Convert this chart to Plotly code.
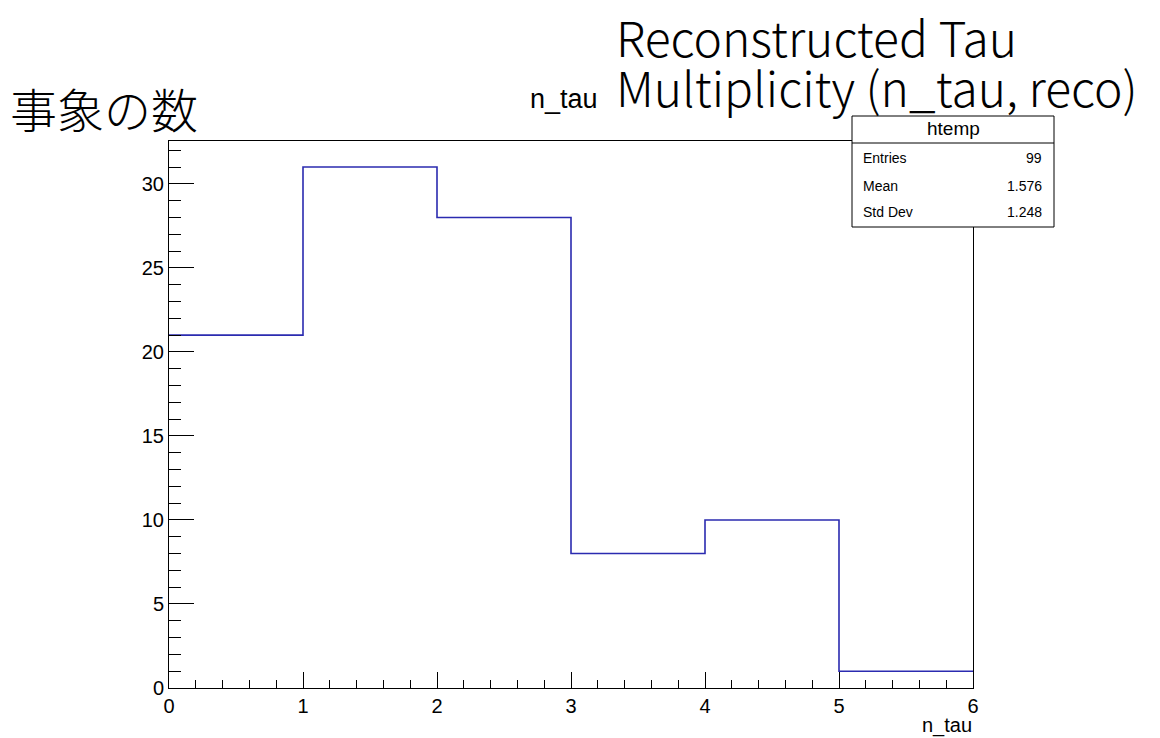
import plotly.graph_objects as go

# Data
bin_edges = [0, 1, 2, 3, 4, 5, 6]
counts = [21, 31, 28, 8, 10, 1]
x_ticks = [0, 1, 2, 3, 4, 5, 6]
y_ticks = [0, 5, 10, 15, 20, 25, 30]
stats_labels = ["Entries", "Mean", "Std Dev"]
stats_values = ["99", "1.576", "1.248"]
title_lines = ["Reconstructed Tau", "Multiplicity (n_tau, reco)"]

W, H = 1160, 738
L, R, T, B = 169, 973, 141, 688
pw, ph = R - L, B - T

def px(x):
    return (x - L) / pw

def py(y):
    return (B - y) / ph

fig = go.Figure()
fig.add_trace(go.Scatter(
    x=bin_edges,
    y=counts + [counts[-1]],
    mode="lines",
    line=dict(shape="hv", color="#2b2bb0", width=1.6),
    hoverinfo="skip",
    showlegend=False,
))

helv = "Liberation Sans, Arial, sans-serif"
tick_font = dict(family=helv, size=20, color="#000")

fig.update_layout(
    width=W, height=H,
    margin=dict(l=L, r=W - R, t=T, b=H - B, pad=0),
    paper_bgcolor="white", plot_bgcolor="white",
    showlegend=False,
    xaxis=dict(
        range=[0, 6], tickvals=x_ticks, ticktext=[str(v) for v in x_ticks],
        ticks="inside", ticklen=16, tickwidth=1, tickcolor="#000",
        minor=dict(dtick=0.2, ticklen=8, ticks="inside", tickcolor="#000", tickwidth=1, showgrid=False),
        showline=True, linecolor="#000", linewidth=1, mirror=True,
        showgrid=False, zeroline=False, tickfont=tick_font,
    ),
    yaxis=dict(
        range=[0, 32.55], tickvals=y_ticks, ticktext=[str(v) for v in y_ticks],
        ticks="inside", ticklen=25, tickwidth=1, tickcolor="#000",
        minor=dict(dtick=1, ticklen=12, ticks="inside", tickcolor="#000", tickwidth=1, showgrid=False),
        showline=True, linecolor="#000", linewidth=1, mirror=True,
        showgrid=False, zeroline=False, tickfont=tick_font,
    ),
)

cjk = "Noto Sans CJK JP, sans-serif"

# Title (two lines, left aligned)
for line, yy in zip(title_lines, [36, 86]):
    fig.add_annotation(
        text=line, xref="paper", yref="paper", x=px(614), y=py(yy),
        xanchor="left", yanchor="middle", align="left", showarrow=False,
        font=dict(family=cjk, size=48, color="#000", weight=300),
    )
# small original title
fig.add_annotation(
    text="n_tau", xref="paper", yref="paper", x=px(564), y=py(99),
    xanchor="center", yanchor="middle", showarrow=False,
    font=dict(family=helv, size=27, color="#000"),
)
# y axis title
fig.add_annotation(
    text="事象の数", xref="paper", yref="paper", x=px(8), y=py(107),
    xanchor="left", yanchor="middle", showarrow=False,
    font=dict(family=cjk, size=47, color="#000", weight=300),
)
# x axis title
fig.add_annotation(
    text="n_tau", xref="paper", yref="paper", x=px(974), y=py(725),
    xanchor="right", yanchor="middle", showarrow=False,
    font=dict(family=helv, size=20, color="#000"),
)

# Stats box
bx0, bx1, by0, by1, bsep = 852, 1054, 116, 227, 143
fig.add_shape(type="rect", xref="paper", yref="paper",
              x0=px(bx0), x1=px(bx1), y0=py(by1), y1=py(by0),
              line=dict(color="#000", width=1), fillcolor="white", layer="above")
fig.add_shape(type="line", xref="paper", yref="paper",
              x0=px(bx0), x1=px(bx1), y0=py(bsep), y1=py(bsep),
              line=dict(color="#000", width=1), layer="above")
fig.add_annotation(
    text="htemp", xref="paper", yref="paper", x=px((bx0 + bx1) / 2), y=py(129),
    xanchor="center", yanchor="middle", showarrow=False,
    font=dict(family=helv, size=19, color="#000"),
)
row_y = [158, 186, 212]
for lab, val, yy in zip(stats_labels, stats_values, row_y):
    fig.add_annotation(text=lab, xref="paper", yref="paper", x=px(861), y=py(yy),
                       xanchor="left", yanchor="middle", showarrow=False,
                       font=dict(family=helv, size=14, color="#000"))
    fig.add_annotation(text=val, xref="paper", yref="paper", x=px(1044), y=py(yy),
                       xanchor="right", yanchor="middle", showarrow=False,
                       font=dict(family=helv, size=14, color="#000"))

fig.write_html("out.html")
